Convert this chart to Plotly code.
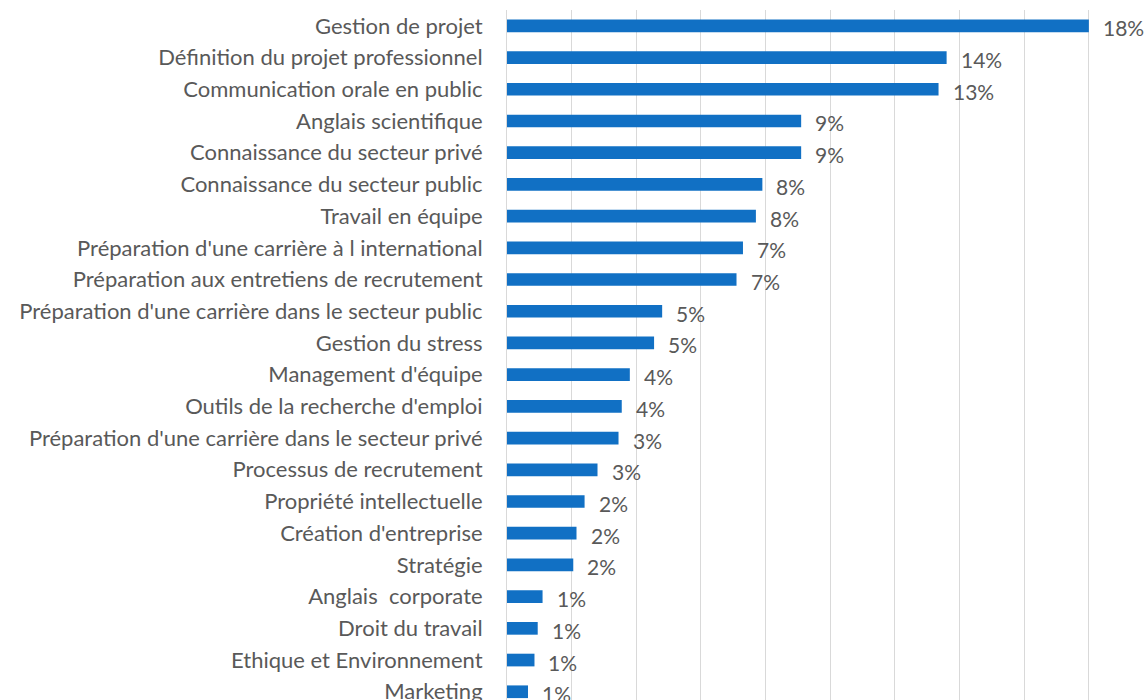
import plotly.graph_objects as go

categories = [
    "Gestion de projet",
    "Définition du projet professionnel",
    "Communication orale en public",
    "Anglais scientifique",
    "Connaissance du secteur privé",
    "Connaissance du secteur public",
    "Travail en équipe",
    "Préparation d'une carrière à l international",
    "Préparation aux entretiens de recrutement",
    "Préparation d'une carrière dans le secteur public",
    "Gestion du stress",
    "Management d'équipe",
    "Outils de la recherche d'emploi",
    "Préparation d'une carrière dans le secteur privé",
    "Processus de recrutement",
    "Propriété intellectuelle",
    "Création d'entreprise",
    "Stratégie",
    "Anglais  corporate",
    "Droit du travail",
    "Ethique et Environnement",
    "Marketing",
]
values = [18.0, 13.6, 13.35, 9.1, 9.1, 7.9, 7.7, 7.3, 7.1, 4.8, 4.55, 3.8, 3.55, 3.45,
          2.8, 2.4, 2.15, 2.05, 1.1, 0.95, 0.85, 0.65]
labels = ["18%", "14%", "13%", "9%", "9%", "8%", "8%", "7%", "7%", "5%", "5%", "4%", "4%",
          "3%", "3%", "2%", "2%", "2%", "1%", "1%", "1%", "1%"]

BLUE = "#1170C4"
TXT = "#595959"
FONT = "Lato"

fig = go.Figure()
fig.add_trace(go.Bar(
    x=values, y=categories, orientation="h",
    marker=dict(color=BLUE, line=dict(width=0)),
    hoverinfo="skip",
))

for c, v, l in zip(categories, values, labels):
    fig.add_annotation(x=v, y=c, text=l, showarrow=False, xanchor="left",
                       xshift=12, yshift=-2,
                       font=dict(family=FONT, size=21, color=TXT))

n = len(categories)
fig.update_layout(
    width=1148, height=700,
    margin=dict(l=507, r=0, t=10, b=0, pad=0),
    plot_bgcolor="white", paper_bgcolor="white",
    bargap=0.6,
    showlegend=False,
    font=dict(family=FONT, size=22, color=TXT),
)
fig.update_xaxes(range=[0, 19.83], dtick=2, showgrid=True, gridcolor="#D9D9D9",
                 gridwidth=1, showticklabels=False, zeroline=False, showline=False,
                 fixedrange=True)
fig.update_yaxes(type="category", range=[n - 1 + 0.26, -0.5], showgrid=False,
                 showline=True, linecolor="#D9D9D9", linewidth=1,
                 ticks="", ticklabelstandoff=19, automargin=False,
                 tickfont=dict(family=FONT, size=22, color=TXT), fixedrange=True)

fig.write_html(
    "out.html",
    config={"displayModeBar": False},
    post_script="document.body.style.margin='0';document.body.style.overflow='hidden';",
)
